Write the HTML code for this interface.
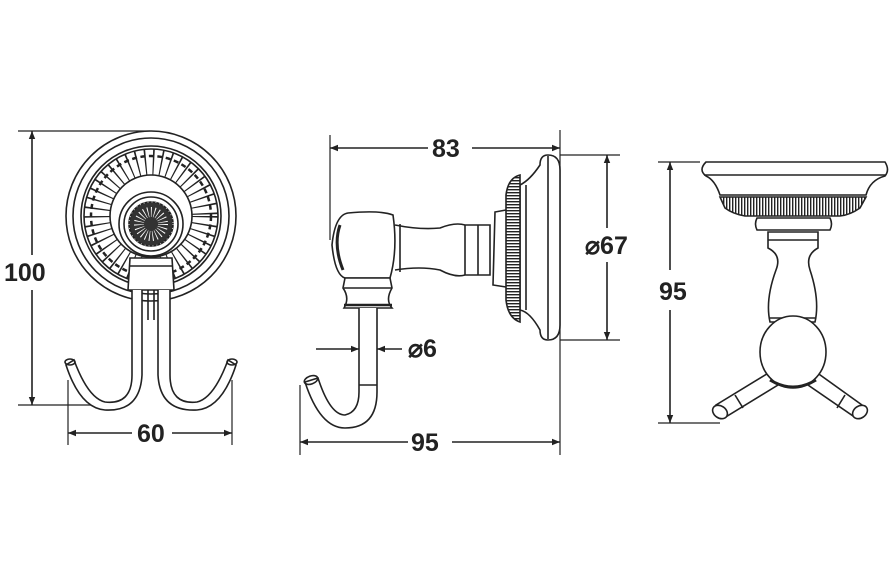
<!DOCTYPE html>
<html><head><meta charset="utf-8"><style>
html,body{margin:0;padding:0;background:#fff;}
svg{display:block}
text{font-family:"Liberation Sans",Arial,sans-serif;font-weight:bold;fill:#222;}
</style></head><body>
<svg width="895" height="582" viewBox="0 0 895 582" xmlns="http://www.w3.org/2000/svg">
<defs>
<marker id="a" viewBox="0 0 10 10" refX="10" refY="5" markerWidth="10" markerHeight="8" orient="auto-start-reverse" markerUnits="userSpaceOnUse"><path d="M0,1 L10,5 L0,9 z" fill="#222"/></marker>
<pattern id="rib" width="3" height="3" patternUnits="userSpaceOnUse"><rect width="3" height="3" fill="#fff"/><rect width="1.4" height="3" fill="#222"/></pattern>
<pattern id="ribh" width="3" height="3" patternUnits="userSpaceOnUse"><rect width="3" height="3" fill="#fff"/><rect width="3" height="1.4" fill="#222"/></pattern>
</defs>
<g stroke="#222" stroke-width="1.6" fill="none">
<line x1="18" y1="131" x2="150" y2="131" stroke-width="1.2"/>
<line x1="18" y1="405" x2="95" y2="405" stroke-width="1.2"/>
<line x1="32" y1="131" x2="32" y2="255" marker-start="url(#a)"/>
<line x1="32" y1="290" x2="32" y2="405" marker-end="url(#a)"/>
<line x1="68" y1="380" x2="68" y2="445" stroke-width="1.2"/>
<line x1="232" y1="380" x2="232" y2="445" stroke-width="1.2"/>
<line x1="68" y1="433" x2="132" y2="433" marker-start="url(#a)"/>
<line x1="172" y1="433" x2="232" y2="433" marker-end="url(#a)"/>
<circle cx="151" cy="216" r="85" fill="#fff"/>
<circle cx="151" cy="216" r="78"/>
<circle cx="151" cy="216" r="70"/>
<circle cx="151" cy="216" r="54" stroke-width="26" stroke-dasharray="1.4 6.6"/>
<circle cx="151" cy="216" r="60" stroke-width="2.5" stroke-dasharray="5 3.5"/>
<circle cx="151" cy="216" r="67"/>
<circle cx="151" cy="216" r="41"/>
<circle cx="151" cy="224" r="32" fill="#fff"/>
<circle cx="151" cy="224" r="27"/>
<circle cx="151" cy="224" r="22" fill="#333"/>
<circle cx="151" cy="224" r="22" stroke="#fff" stroke-width="0.8" stroke-dasharray="1 3" fill="none"/>
<circle cx="151" cy="224" r="12" stroke="#fff" stroke-width="10" stroke-dasharray="0.8 2.5" fill="none"/>
<path d="M130,258 L172,258 L174,290 L128,290 Z" fill="#fff"/>
<line x1="130" y1="266" x2="172" y2="266"/>
<path d="M132,290 L132,375 Q132,405 105,402 Q88,398 74,360 L66,365 Q80,408 105,410 Q140,412 142,375 L142,290" fill="#fff"/>
<path d="M170,290 L170,375 Q170,405 197,402 Q214,398 228,360 L236,365 Q222,408 197,410 Q160,412 158,375 L158,290" fill="#fff"/>
<line x1="148" y1="290" x2="148" y2="320"/><line x1="154" y1="290" x2="154" y2="320"/>
<ellipse cx="70" cy="362" rx="5" ry="3"/><ellipse cx="232" cy="362" rx="5" ry="3"/>
<line x1="330" y1="135" x2="330" y2="240" stroke-width="1.2"/>
<line x1="560" y1="130" x2="560" y2="455" stroke-width="1.2"/>
<line x1="330" y1="148" x2="428" y2="148" marker-start="url(#a)"/>
<line x1="472" y1="148" x2="560" y2="148" marker-end="url(#a)"/>
<line x1="560" y1="155" x2="620" y2="155" stroke-width="1.2"/>
<line x1="560" y1="340" x2="620" y2="340" stroke-width="1.2"/>
<line x1="607" y1="155" x2="607" y2="228" marker-start="url(#a)"/>
<line x1="607" y1="262" x2="607" y2="340" marker-end="url(#a)"/>
<line x1="300" y1="385" x2="300" y2="455" stroke-width="1.2"/>
<line x1="300" y1="442" x2="408" y2="442" marker-start="url(#a)"/>
<line x1="452" y1="442" x2="560" y2="442" marker-end="url(#a)"/>
<line x1="316" y1="349" x2="359" y2="349" marker-end="url(#a)"/>
<line x1="402" y1="349" x2="377" y2="349" marker-end="url(#a)"/>
<path d="M548,155 Q560,155 560,170 L560,325 Q560,340 548,340 Q540,340 540,330 Q530,312 520,310 L520,185 Q530,180 540,165 Q540,155 548,155 Z" fill="#fff"/>
<line x1="548" y1="156" x2="548" y2="339"/>
<line x1="526" y1="185" x2="526" y2="310"/>
<path d="M520,175 Q508,178 506,195 L506,300 Q508,318 520,322 Z" fill="url(#ribh)"/>
<path d="M506,210 L495,212 L493,285 L506,287"/>
<path d="M395,225 Q420,230 440,228 Q455,222 465,225 L490,225 L490,275 L465,275 Q455,278 440,270 Q420,266 395,270" fill="#fff"/>
<line x1="400" y1="224" x2="400" y2="272"/><line x1="465" y1="225" x2="465" y2="275"/><line x1="478" y1="225" x2="478" y2="275"/>
<path d="M348,213 Q335,215 332,245 Q335,275 345,278 L390,278 Q398,250 393,215 Q380,210 348,213 Z" fill="#fff"/>
<path d="M340,225 Q333,245 343,270" stroke-width="3"/>
<path d="M345,278 L390,278 L392,288 Q385,300 392,308 L344,308 Q350,298 343,288 Z" fill="#fff"/>
<line x1="344" y1="288" x2="392" y2="288"/><line x1="344" y1="305" x2="392" y2="305" stroke-width="2.5"/>
<path d="M359,308 L359,392 Q359,412 345,415 Q330,415 318,378 L305,382 Q320,428 345,428 Q377,428 377,392 L377,308" fill="#fff"/>
<ellipse cx="311" cy="380" rx="7" ry="4" transform="rotate(-20 311 380)"/>
<line x1="359" y1="385" x2="377" y2="385"/>
<line x1="658" y1="162" x2="700" y2="162" stroke-width="1.2"/>
<line x1="658" y1="423" x2="720" y2="423" stroke-width="1.2"/>
<line x1="670" y1="162" x2="670" y2="270" marker-start="url(#a)"/>
<line x1="670" y1="310" x2="670" y2="423" marker-end="url(#a)"/>
<path d="M706,162 L885,162 Q890,170 885,176 Q870,180 866,195 L720,195 Q715,180 706,176 Q698,170 706,162 Z" fill="#fff"/>
<line x1="704" y1="175" x2="886" y2="175"/>
<path d="M720,197 L866,197 L860,208 Q850,215 840,216 L745,216 Q733,214 725,208 Z" fill="url(#rib)"/>
<path d="M757,218 L830,218 Q833,224 830,230 L757,230 Q754,224 757,218 Z" fill="#fff"/>
<path d="M768,232 L818,232 L818,248 Q805,255 810,270 Q820,300 815,322 L770,322 Q765,300 776,270 Q782,255 768,248 Z" fill="#fff"/>
<line x1="768" y1="240" x2="818" y2="240"/><line x1="770" y1="318" x2="815" y2="318"/>
<path d="M770,372 L716,405 L724,418 L778,385 Z" fill="#fff"/>
<path d="M816,372 L862,405 L856,418 L808,385 Z" fill="#fff"/>
<ellipse cx="720" cy="412" rx="6" ry="8" transform="rotate(-55 720 412)" fill="#fff"/>
<ellipse cx="860" cy="412" rx="6" ry="8" transform="rotate(55 860 412)" fill="#fff"/>
<line x1="735" y1="395" x2="743" y2="408"/><line x1="845" y1="395" x2="837" y2="408"/>
<ellipse cx="793" cy="352" rx="33" ry="36" fill="#fff"/>
<path d="M770,380 Q793,394 816,380" stroke-width="3"/>
</g>
<text x="4" y="281" font-size="25">100</text>
<text x="137" y="442" font-size="25">60</text>
<text x="432" y="157" font-size="25">83</text>
<text x="585" y="254" font-size="25">⌀67</text>
<text x="408" y="357" font-size="25">⌀6</text>
<text x="411" y="451" font-size="25">95</text>
<text x="659" y="300" font-size="25">95</text>
</svg>
</body></html>
